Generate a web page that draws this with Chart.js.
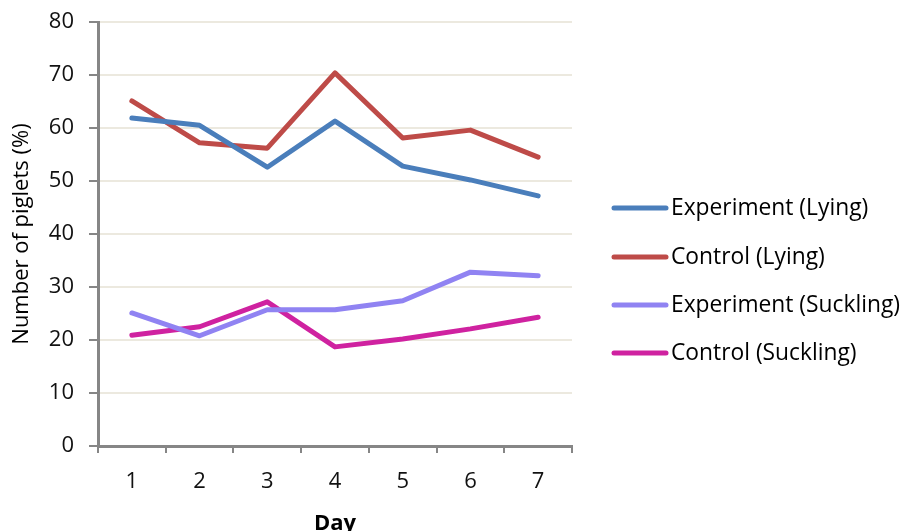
<!DOCTYPE html>
<html>
<head>
<meta charset="utf-8">
<script src="https://cdn.jsdelivr.net/npm/chart.js@4/dist/chart.umd.min.js"></script>
<style>
  html, body { margin: 0; padding: 0; background: #fff; }
  #wrap { width: 906px; height: 531px; position: relative; }
</style>
</head>
<body>
<div id="wrap"><canvas id="c"></canvas></div>
<script>
const days = ['1', '2', '3', '4', '5', '6', '7'];
const experimentLying = [61.9, 60.5, 52.6, 61.3, 52.8, 50.2, 47.2];
const controlLying = [65.1, 57.2, 56.2, 70.4, 58.1, 59.6, 54.5];
const experimentSuckling = [25.1, 20.8, 25.7, 25.7, 27.4, 32.8, 32.1];
const controlSuckling = [20.9, 22.5, 27.2, 18.7, 20.2, 22.1, 24.3];
const yTicks = [0, 10, 20, 30, 40, 50, 60, 70, 80];

const FONT = '"Open Sans", Lato, sans-serif';
const FONT_SIZE = 22;
const AXIS = '#868686';
const GRID = '#ece9df';

// Legend drawn beside the plot: a short line sample followed by the series name
const sideLegend = {
  id: 'sideLegend',
  afterDraw(chart) {
    const ctx = chart.ctx;
    const x0 = 612, x1 = 668, textX = 671;
    const ys = [208, 257, 305, 353];
    ctx.save();
    ctx.font = '22.8px ' + FONT;
    ctx.textBaseline = 'middle';
    ctx.textAlign = 'left';
    chart.data.datasets.forEach((ds, i) => {
      ctx.strokeStyle = ds.borderColor;
      ctx.lineWidth = 5;
      ctx.lineCap = 'round';
      ctx.beginPath();
      ctx.moveTo(x0 + 2, ys[i]);
      ctx.lineTo(x1 - 2, ys[i]);
      ctx.stroke();
      ctx.fillStyle = '#000';
      ctx.fillText(ds.label, textX, ys[i] + 1);
    });
    ctx.restore();
  }
};

const mk = (label, data, color) => ({
  label, data,
  borderColor: color,
  backgroundColor: color,
  borderWidth: 5,
  pointRadius: 0,
  pointHoverRadius: 0,
  tension: 0,
  borderCapStyle: 'round',
  borderJoinStyle: 'round',
  fill: false
});

new Chart(document.getElementById('c'), {
  type: 'line',
  data: {
    labels: days,
    datasets: [
      mk('Experiment (Lying)', experimentLying, '#4a7ebb'),
      mk('Control (Lying)', controlLying, '#be4b48'),
      mk('Experiment (Suckling)', experimentSuckling, '#9083f2'),
      mk('Control (Suckling)', controlSuckling, '#cf22a0')
    ]
  },
  options: {
    responsive: true,
    maintainAspectRatio: false,
    animation: false,
    layout: { padding: { left: 0, top: 22, right: 906 - 572, bottom: 0 } },
    plugins: {
      legend: { display: false },
      tooltip: { enabled: false }
    },
    scales: {
      x: {
        offset: true,
        grid: {
          offset: true,
          display: true,
          color: 'rgba(0,0,0,0)',
          tickColor: AXIS,
          lineWidth: 2,
          tickLength: 7,
          drawOnChartArea: false
        },
        border: { color: AXIS, width: 3 },
        ticks: { color: '#111', font: { family: FONT, size: FONT_SIZE }, padding: 16 },
        title: {
          display: true, text: 'Day', color: '#000',
          font: { family: FONT, size: FONT_SIZE, weight: 'bold' },
          padding: { top: 0, bottom: -6 }
        },
        afterFit(scale) {
          scale.height = 531 - 446;
          scale.paddingLeft = 0;
          scale.paddingRight = 0;
        }
      },
      y: {
        min: 0, max: 80,
        afterBuildTicks(scale) { scale.ticks = yTicks.map(v => ({ value: v })); },
        grid: {
          color: GRID,
          tickColor: AXIS,
          lineWidth: 2,
          tickLength: 9
        },
        border: { color: AXIS, width: 3 },
        ticks: { color: '#111', font: { family: FONT, size: FONT_SIZE }, padding: 15 },
        title: {
          display: true, text: 'Number of piglets (%)', color: '#000',
          font: { family: FONT, size: FONT_SIZE },
          padding: { top: 9, bottom: 0 }
        },
        afterFit(scale) {
          scale.width = 98;
          scale.paddingTop = 0;
          scale.paddingBottom = 0;
        }
      }
    }
  },
  plugins: [sideLegend]
});
</script>
</body>
</html>
